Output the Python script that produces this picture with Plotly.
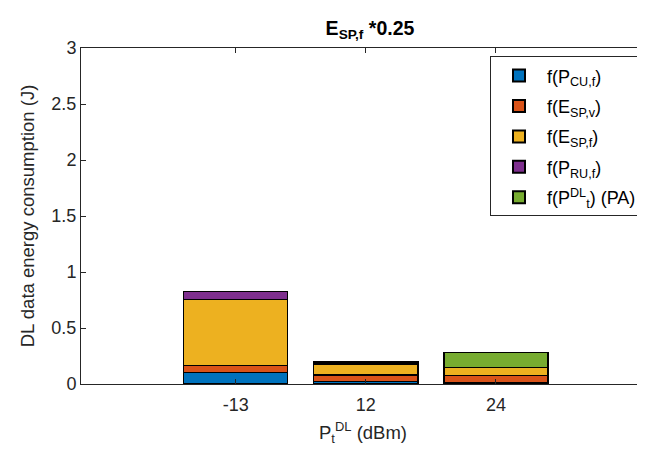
import plotly.graph_objects as go

categories = ["-13", "12", "24"]
series_names = [
    "f(P<sub>CU,f</sub>)",
    "f(E<sub>SP,v</sub>)",
    "f(E<sub>SP,f</sub>)",
    "f(P<sub>RU,f</sub>)",
    "f(P<sup>DL</sup><sub>t</sub>) (PA)",
]
cu_f = [0.104, 0.020, 0.015]
sp_v = [0.059, 0.060, 0.059]
sp_f = [0.590, 0.098, 0.072]
ru_f = [0.071, 0.010, 0.004]
pa = [0.004, 0.008, 0.133]
series_values = [cu_f, sp_v, sp_f, ru_f, pa]
colors = ["#0072BD", "#D95319", "#EDB120", "#7E2F8E", "#77AC30"]
y_ticks = [0, 0.5, 1, 1.5, 2, 2.5, 3]
y_tick_text = ["0", "0.5", "1", "1.5", "2", "2.5", "3"]

FONT = "Liberation Sans, Arial, Helvetica, sans-serif"
AX = "#262626"

# page has an 8px body margin: figure drawn at (8,8) in the window
W, H = 637, 438
L, R, T, B = 73, 0, 40, 62

fig = go.Figure()
for name, vals, col in zip(series_names, series_values, colors):
    fig.add_trace(go.Bar(
        x=categories, y=vals, name=name, legendgroup=name,
        marker=dict(color=col, line=dict(color="#000000", width=1.3)),
        width=0.8,
    ))

fig.update_layout(
    barmode="stack",
    width=W, height=H,
    margin=dict(l=L, r=R, t=T, b=B),
    paper_bgcolor="white", plot_bgcolor="white",
    font=dict(family=FONT, size=18, color=AX),
    title=dict(text="<b>E<sub>SP,f</sub> *0.25</b>", x=362 / W, xanchor="center",
               y=1 - 20 / H, yanchor="middle", font=dict(size=19.5, color="#000000")),
    showlegend=True,
    legend=dict(x=0.9947, xanchor="right", y=0.975, yanchor="top",
                bgcolor="white", bordercolor=AX, borderwidth=1,
                font=dict(size=18, color="#000000"), traceorder="grouped",
                itemsizing="constant", itemwidth=46, tracegroupgap=4),
    bargap=0.2,
)
fig.update_xaxes(
    type="category", range=[-1.19, 3.146],
    showline=True, linecolor=AX, linewidth=1, mirror="allticks",
    ticks="inside", ticklen=5, tickcolor=AX,
    showgrid=False, zeroline=False,
    tickfont=dict(size=18, color=AX), ticklabelstandoff=4,
    title=dict(text="P<sub>t</sub><sup>DL</sup> (dBm)", font=dict(size=18.5, color=AX), standoff=14),
)
fig.update_yaxes(
    range=[0, 3], tickvals=y_ticks, ticktext=y_tick_text,
    showline=True, linecolor=AX, linewidth=1, mirror=False,
    ticks="inside", ticklen=5, tickcolor=AX,
    showgrid=False, zeroline=False,
    tickfont=dict(size=18, color=AX),
    title=dict(text="DL data energy consumption (J)", font=dict(size=18.5, color=AX), standoff=11),
)

fig.write_html("out.html")
